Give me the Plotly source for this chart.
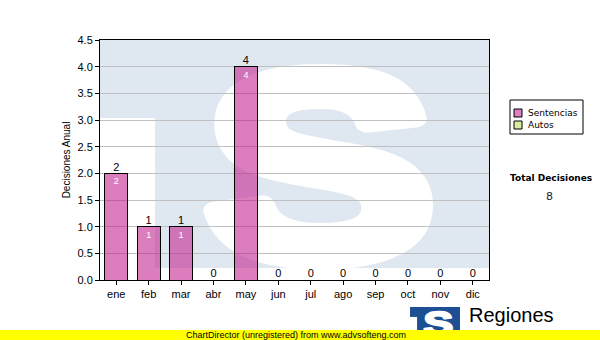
import base64
import plotly.graph_objects as go

# ---------------- data ----------------
months = ["ene", "feb", "mar", "abr", "may", "jun", "jul", "ago", "sep", "oct", "nov", "dic"]
sentencias = [2, 1, 1, 0, 4, 0, 0, 0, 0, 0, 0, 0]
autos = [0, 0, 0, 0, 0, 0, 0, 0, 0, 0, 0, 0]
series_names = ["Sentencias", "Autos"]
y_title = "Decisiones Anual"
total_title = "Total Decisiones"
footer_text = "ChartDirector (unregistered) from www.advsofteng.com"
logo_text = "Regiones"

totals = [s + a for s, a in zip(sentencias, autos)]
grand_total = sum(totals)

# ---------------- styling ----------------
W, H = 600, 340
L, R, T, B = 100, 489, 40, 280  # plot area in pixels
SENT_COLOR = "rgba(192,20,134,0.55)"
SENT_LEGEND = "#dc80c0"
AUTOS_COLOR = "#d8eca0"
WM_COLOR = "#dfe8f1"
LOGO_COLOR = "#1d4f94"
FONT = "Liberation Sans, Arial, sans-serif"
VFONT = "DejaVu Sans, Verdana, sans-serif"


def px(x):
    return (x - L) / (R - L)


def py(y):
    return (B - y) / (B - T)


def logo_svg(bg, fg):
    svg = (
        '<svg xmlns="http://www.w3.org/2000/svg" width="389" height="228" '
        'viewBox="0 0 389 228" preserveAspectRatio="none">'
        f'<rect x="0" y="0" width="389" height="228" fill="{bg}"/>'
        f'<rect x="0" y="78" width="55" height="160" fill="{fg}"/>'
        '<text x="0" y="0" transform="translate(105,218) scale(1.3,1)" '
        'font-family="Liberation Sans, Arial" font-weight="bold" font-size="265" '
        f'fill="{fg}" stroke="{fg}" stroke-width="18" stroke-linejoin="round">S</text></svg>'
    )
    return "data:image/svg+xml;base64," + base64.b64encode(svg.encode()).decode()


fig = go.Figure()

fig.add_trace(go.Bar(
    x=months, y=sentencias, name=series_names[0],
    marker=dict(color=SENT_COLOR, line=dict(color="black", width=1)),
    text=[str(v) if v > 0 else "" for v in sentencias],
    textposition="inside", insidetextanchor="end", textangle=0,
    textfont=dict(color="white", size=9, family=FONT),
    showlegend=False, hoverinfo="skip",
))
fig.add_trace(go.Bar(
    x=months, y=autos, name=series_names[1],
    marker=dict(color=AUTOS_COLOR, line=dict(color="black", width=0)),
    showlegend=False, hoverinfo="skip",
))
fig.add_trace(go.Scatter(
    x=months, y=totals, mode="text", text=[str(v) for v in totals],
    textposition="top center", textfont=dict(color="black", size=11, family=FONT),
    showlegend=False, hoverinfo="skip", cliponaxis=False,
))

shapes = []
annotations = []

# manual legend box
shapes.append(dict(type="rect", xref="paper", yref="paper",
                   x0=px(510), x1=px(583), y0=py(100), y1=py(134),
                   line=dict(color="black", width=1), fillcolor="white", layer="above"))
for i, (name, col) in enumerate(zip(series_names, [SENT_LEGEND, AUTOS_COLOR])):
    cy = 113 + 12 * i
    shapes.append(dict(type="rect", xref="paper", yref="paper",
                       x0=px(514), x1=px(522), y0=py(cy - 4), y1=py(cy + 4),
                       line=dict(color="black", width=1), fillcolor=col, layer="above"))
    annotations.append(dict(x=px(526), y=py(cy), xref="paper", yref="paper",
                            text=name, showarrow=False, xanchor="left", yanchor="middle",
                            font=dict(family=VFONT, size=9, color="black")))

# total
annotations.append(dict(x=px(551), y=py(178), xref="paper", yref="paper",
                        text=f"<b>{total_title}</b>", showarrow=False,
                        xanchor="center", yanchor="middle",
                        font=dict(family=VFONT, size=9, color="black")))
annotations.append(dict(x=px(549), y=py(196), xref="paper", yref="paper",
                        text=str(grand_total), showarrow=False,
                        xanchor="center", yanchor="middle",
                        font=dict(family=VFONT, size=11, color="#1a1a33")))

# footer yellow bar
shapes.append(dict(type="rect", xref="paper", yref="paper",
                   x0=px(0), x1=px(600), y0=py(340), y1=py(330),
                   line=dict(width=0), fillcolor="#ffff00", layer="above"))
annotations.append(dict(x=px(296), y=py(335), xref="paper", yref="paper",
                        text=footer_text, showarrow=False,
                        xanchor="center", yanchor="middle",
                        font=dict(family=FONT, size=9, color="black")))
annotations.append(dict(x=px(467), y=py(315), xref="paper", yref="paper",
                        text=logo_text, showarrow=False,
                        xanchor="left", yanchor="middle",
                        font=dict(family=FONT, size=20, color="black")))

images = [
    dict(source=logo_svg(WM_COLOR, "white"), xref="paper", yref="paper",
         x=0, y=1, sizex=1, sizey=py(T) - py(268), xanchor="left", yanchor="top",
         sizing="stretch", layer="below"),
    dict(source=logo_svg(LOGO_COLOR, "white"), xref="paper", yref="paper",
         x=px(410), y=py(307), sizex=px(460) - px(410), sizey=py(307) - py(336),
         xanchor="left", yanchor="top", sizing="stretch", layer="below"),
]

fig.update_layout(
    width=W, height=H,
    margin=dict(l=L, r=W - R, t=T, b=H - B, pad=0),
    paper_bgcolor="white", plot_bgcolor="rgba(0,0,0,0)",
    barmode="stack", bargap=0.29,
    showlegend=False,
    shapes=shapes, annotations=annotations, images=images,
    font=dict(family=FONT, size=11, color="black"),
)
fig.update_xaxes(
    type="category", range=[-0.5, len(months) - 0.5],
    showline=True, linecolor="black", linewidth=1, mirror=True,
    ticks="outside", ticklen=4, tickcolor="black", showgrid=False,
    tickfont=dict(family=FONT, size=11, color="black"),
)
fig.update_yaxes(
    range=[0, 4.5], dtick=0.5, tick0=0, tickformat=".1f",
    showline=True, linecolor="black", linewidth=1, mirror=True,
    ticks="outside", ticklen=4, tickcolor="black",
    showgrid=True, gridcolor="#c0c0c0", gridwidth=1, zeroline=False,
    tickfont=dict(family=FONT, size=11, color="black"),
    title=dict(text=y_title, font=dict(family=FONT, size=10, color="black"), standoff=5),
)

fig.write_html("out.html")
